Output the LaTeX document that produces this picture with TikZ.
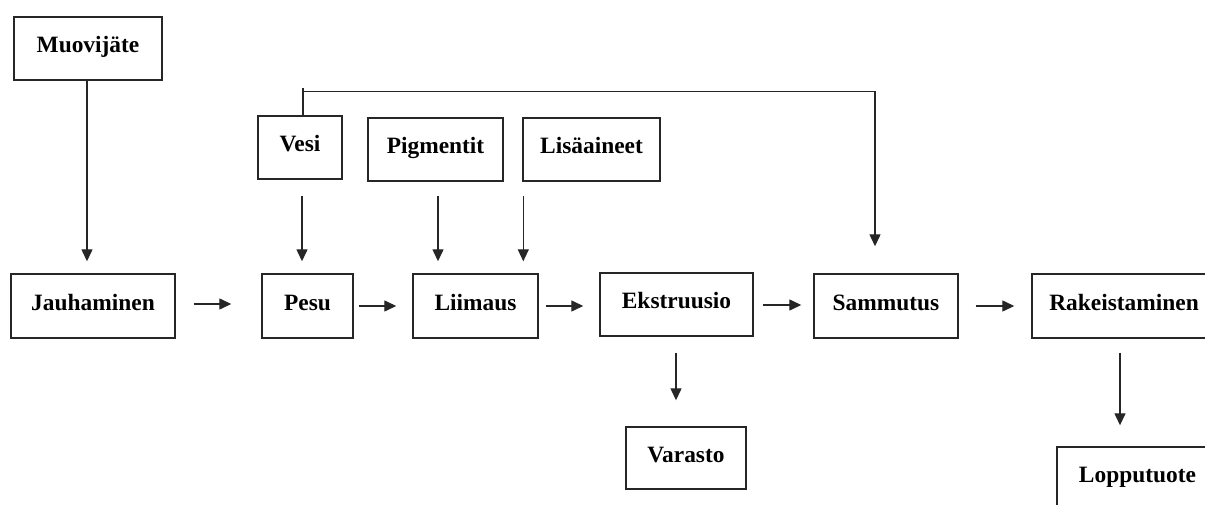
\documentclass[tikz,border=0pt]{standalone}
\usepackage{fontspec}
\setmainfont{Liberation Serif}
\usetikzlibrary{arrows.meta}

\tikzset{
	procbox/.style={draw=black!85, line width=1.4pt, rectangle, minimum height=63pt,
		inner sep=0pt, text height=16pt, text depth=7.6pt,
		font=\bfseries\fontsize{23.4pt}{28pt}\selectfont},
	flowarrow/.style={draw=black!85, line width=1.3pt, -{Triangle[width=11pt,length=12pt]}},
	flowline/.style={draw=black!85, line width=1.3pt}
}

\begin{document}
\begin{tikzpicture}[x=1pt, y=-1pt]
		\useasboundingbox (0,0) rectangle (1205,505);
		
		% inputs
		\node[procbox, minimum width=148pt] (muovijate) at (88,48.5) {Muovijäte};
		\node[procbox, minimum width=84pt] (vesi) at (300,147.5) {Vesi};
		\node[procbox, minimum width=135pt] (pigmentit) at (435.5,149.5) {Pigmentit};
		\node[procbox, minimum width=137pt] (lisaaineet) at (591.5,149.5) {Lisäaineet};
		
		% process line
		\node[procbox, minimum width=164pt, minimum height=64pt] (jauhaminen) at (93,306) {Jauhaminen};
		\node[procbox, minimum width=91pt, minimum height=64pt] (pesu) at (307.5,306) {Pesu};
		\node[procbox, minimum width=125pt, minimum height=64pt] (liimaus) at (475.5,306) {Liimaus};
		\node[procbox, minimum width=153pt] (ekstruusio) at (676.5,304.5) {Ekstruusio};
		\node[procbox, minimum width=144pt, minimum height=64pt] (sammutus) at (886,306) {Sammutus};
		\node[procbox, minimum width=184pt, minimum height=64pt] (rakeistaminen) at (1124,306) {Rakeistaminen};
		
		% outputs
		\node[procbox, minimum width=120pt, minimum height=62pt] (varasto) at (686,458) {Varasto};
		\node[procbox, minimum width=161pt] (lopputuote) at (1137.5,478.5) {Lopputuote};
		
		% feeds from above
		\draw[flowarrow, shorten >=12pt] ([xshift=-1pt]muovijate.south) -- ([xshift=-1pt]muovijate.south |- jauhaminen.north);
		\draw[flowarrow, shorten <=16pt, shorten >=12pt] ([xshift=2pt]vesi.south) -- ([xshift=2pt]vesi.south |- pesu.north);
		\draw[flowarrow, shorten <=14pt, shorten >=12pt] ([xshift=2.5pt]pigmentit.south) -- ([xshift=2.5pt]pigmentit.south |- liimaus.north);
		\draw[flowarrow, shorten <=14pt, shorten >=12pt] ([xshift=1pt]lisaaineet.south west) -- ([xshift=1pt]lisaaineet.south west |- liimaus.north);
		
		% water to quenching
		\draw[flowline] ([xshift=3pt]vesi.north) -- ([xshift=3pt,yshift=27pt]vesi.north);
		\draw[flowarrow] ([xshift=3pt,yshift=24pt]vesi.north) -| ([xshift=-11pt,yshift=27pt]sammutus.north);
		
		% main flow
		\draw[flowarrow, shorten <=18pt, shorten >=30pt] ([yshift=2pt]jauhaminen.east) -- ([yshift=2pt]jauhaminen.east -| pesu.west);
		\draw[flowarrow, shorten <=5pt, shorten >=16pt] (pesu.east) -- (pesu.east -| liimaus.west);
		\draw[flowarrow, shorten <=7pt, shorten >=16pt] (liimaus.east) -- (liimaus.east -| ekstruusio.west);
		\draw[flowarrow, shorten <=9pt, shorten >=12pt] ([yshift=1pt]sammutus.west -| ekstruusio.east) -- ([yshift=1pt]sammutus.west);
		\draw[flowarrow, shorten <=17pt, shorten >=17pt] (sammutus.east) -- (sammutus.east -| rakeistaminen.west);
		
		% to storage and product
		\draw[flowarrow, shorten <=16pt, shorten >=26pt] ([xshift=-0.5pt]ekstruusio.south) -- ([xshift=-0.5pt]ekstruusio.south |- varasto.north);
		\draw[flowarrow, shorten <=14pt, shorten >=21pt] ([xshift=-4pt]rakeistaminen.south) -- ([xshift=-4pt]rakeistaminen.south |- lopputuote.north);
\end{tikzpicture}
\end{document}
